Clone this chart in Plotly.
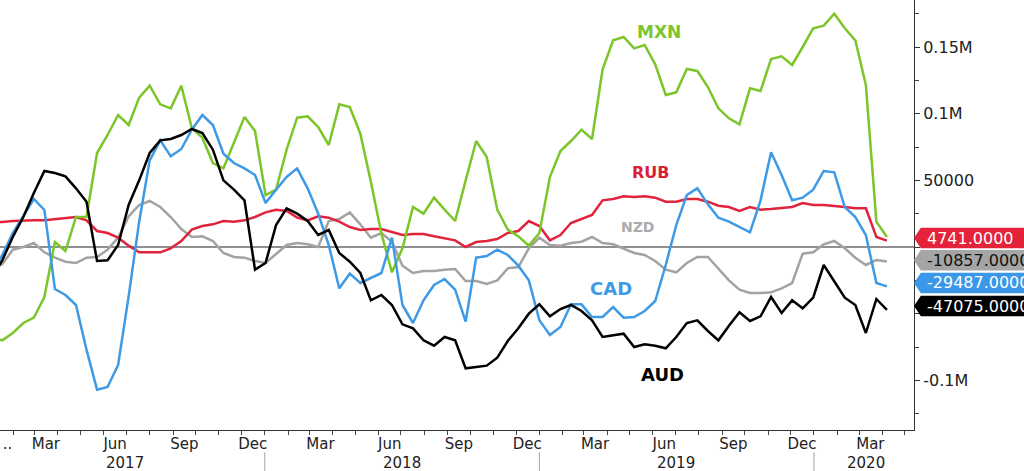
import pandas as pd
import plotly.graph_objects as go

# ---- data (thousands of contracts), bi-weekly observations ----
dates = pd.date_range("2017-01-03", periods=86, freq="14D")

mxn = [-68, -70, -64.5, -57, -53, -37.5, 3.75, -3, 22.5, 22.5, 70.5, 84, 99, 91.5, 112, 121,
       107, 104, 121, 89, 82, 63, 59, 78, 97.5, 87, 39, 43, 73, 97, 98, 90, 76.5, 107, 105, 85,
       49, 10, -19, -1, 30, 25, 37, 28, 19.5, 50, 79.5, 67.5, 28, 13, 8, 1, 10.5, 52.5, 72, 79.5,
       88, 81, 133, 155, 157.5, 149, 151.5, 137, 114, 116, 133.5, 132, 120, 104, 96.5, 92, 119,
       117, 141, 143, 136.5, 150, 164, 166, 175, 164, 155, 121.5, 19, 7.5]

rub = [18.75, 18.75, 19.5, 20, 20, 20, 21, 22, 22.5, 20, 12, 10.5, 7, 1, -4, -4, -4, -1, 4.5, 13,
       15.75, 17, 19.5, 19, 20, 22.5, 26, 28, 27, 22, 20, 23, 22, 19, 15, 12.75, 13.5, 13.5, 11, 9,
       9.75, 9.75, 8, 6.75, 5, 0, 3.75, 4.5, 6, 10.5, 12, 19.5, 15.75, 5, 9, 18, 21, 24, 35, 36,
       38, 37.5, 38, 37, 34, 34, 36, 36, 34, 31, 30, 27, 30, 28, 28.5, 29, 30, 33, 31.5, 31.5,
       31, 30, 29, 29, 7.5, 4.741]

nzd = [-16, -13, -2, 0, 3, -4, -8, -11, -12, -8, -7.5, -2, 7, 23, 31.5, 34.5, 30, 22.5, 13.5, 7.5,
       8, 4.5, -4.5, -7.5, -8, -10.5, -12, -5, 1.5, 3, 2, 0, 19.5, 21, 26, 17, 7, 10.5, 4, -14,
       -19.5, -18, -18, -17, -16.5, -25.5, -25.5, -27.75, -25, -16, -15, -1, 7, 1.5, 1, 3, 4, 7.5,
       3, 2, -1, -4.5, -6, -10.5, -17, -19, -12, -7.5, -7.5, -16, -25, -32, -34.5, -34.5, -34,
       -31, -27, -5, -4, 2, 4.5, -1, -8, -13.5, -9.75, -10.857]

cad = [-20, -6, 10.5, 23, 36, 27.75, -31.5, -36, -43.5, -77, -107, -105, -88.5, -37, 19, 65, 80,
       68, 73.5, 88, 99, 91.5, 70, 63, 59, 54, 33, 43, 52.5, 59, 44, 25, 1.5, -31, -20, -27, -23,
       -19.5, 7, -43.5, -57, -40, -28.5, -24, -32, -56, -8, -6.75, -2, -6, -14, -25, -55, -66, -60,
       -43, -43, -52.5, -52.5, -45, -53, -52.5, -48, -40.5, -13.5, 16.5, 39, 44, 32, 22, 19, 15,
       11, 35, 71, 54, 35, 37, 43, 57, 56, 30, 22.5, 9, -27, -29.487]

aud = [-23, -10, 7.5, 22.5, 40.5, 57, 55.5, 53, 44, 34, -10.5, -10, 1.5, 31.5, 50, 70.5, 80, 81,
       84, 88.5, 85.5, 73, 50, 43, 35, -17, -12, 16.5, 29, 25, 19.5, 9, 12.75, -4.5, -11, -19.5,
       -40, -36, -43.5, -58, -61, -70, -74, -67.5, -70, -91, -90, -89, -83, -70.5, -61, -50, -43,
       -52, -46.5, -43.5, -48, -55, -67.5, -66, -65, -75, -73, -74, -76, -67.5, -57, -55, -63,
       -70, -59, -49, -55.5, -52, -37.5, -49.5, -40, -46, -38, -13.5, -25.5, -38, -43.5, -64.5,
       -39, -47.075]

month_ticks = ["2017-01-24", "2017-03-16", "2017-06-16", "2017-09-16", "2017-12-16",
               "2018-03-16", "2018-06-16", "2018-09-16", "2018-12-16",
               "2019-03-16", "2019-06-16", "2019-09-16", "2019-12-16", "2020-03-16"]
month_text = ["..", "Mar", "Jun", "Sep", "Dec", "Mar", "Jun", "Sep", "Dec",
              "Mar", "Jun", "Sep", "Dec", "Mar"]
year_text = ["2017", "2018", "2019", "2020"]
year_pos = ["2017-06-29", "2018-07-02", "2019-07-02", "2020-03-10"]
year_breaks = ["2018-01-01", "2019-01-01", "2020-01-01"]

y_tickvals = [-100, -50, 0, 50, 100, 150]
y_ticktext = ["-0.1M", "", "", "50000", "0.1M", "0.15M"]

FONT = "DejaVu Sans"

series = [
    ("NZD", nzd, "#a3a3a3"),
    ("RUB", rub, "#e0243c"),
    ("MXN", mxn, "#7cc52a"),
    ("CAD", cad, "#3f9ae6"),
    ("AUD", aud, "#000000"),
]

fig = go.Figure()
for name, vals, col in series:
    fig.add_trace(go.Scatter(x=dates, y=vals, mode="lines", name=name,
                             line=dict(color=col, width=2.5), showlegend=False,
                             hoverinfo="skip"))

shapes = []
# zero line
shapes.append(dict(type="line", xref="paper", yref="y", x0=0, x1=1, y0=0, y1=0,
                   line=dict(color="#6a6a6a", width=1.3), layer="below"))
# year separators
for d in year_breaks:
    shapes.append(dict(type="line", xref="x", yref="paper", x0=d, x1=d, y0=-0.052, y1=-0.1,
                       line=dict(color="#a0a0a0", width=1)))

annotations = []
for t, d in zip(year_text, year_pos):
    annotations.append(dict(x=d, y=-0.077, xref="x", yref="paper", text=t, showarrow=False,
                            xanchor="center", yanchor="middle",
                            font=dict(family=FONT, size=15, color="#222")))

# series name labels
labels = [("MXN", 0.721, 0.926, "#7cc52a", 17),
          ("RUB", 0.712, 0.598, "#d71f36", 16),
          ("NZD", 0.698, 0.472, "#ababab", 14),
          ("CAD", 0.668, 0.330, "#3f9ae6", 18),
          ("AUD", 0.725, 0.128, "#000000", 18)]
for t, xp, yp, col, sz in labels:
    annotations.append(dict(x=xp, y=yp, xref="paper", yref="paper", text="<b>%s</b>" % t,
                            showarrow=False, xanchor="center", yanchor="middle",
                            font=dict(family=FONT, size=sz, color=col)))

# last-value tags on the right axis (stacked slightly to avoid overlap)
half = 7.75
tags = [(rub[-1], "#e4223a", "white"), (nzd[-1], "#a5a5a5", "#111111"),
        (cad[-1], "#3b98e8", "white"), (aud[-1], "#000000", "white")]
offsets = [2.0, 0.9, 2.5, 2.8]
for (v, bg, fg), off in zip(tags, offsets):
    c = v + off
    path = "M 1.0,{c} L 1.0075,{t} L 1.14,{t} L 1.14,{b} L 1.0075,{b} Z".format(
        c=c, t=c + half, b=c - half)
    shapes.append(dict(type="path", xref="paper", yref="y", path=path,
                       fillcolor=bg, line=dict(width=0), layer="above"))
    annotations.append(dict(x=1.012, y=c, xref="paper", yref="y",
                            text="%.4f" % (v * 1000), showarrow=False,
                            xanchor="left", yanchor="middle",
                            font=dict(family=FONT, size=16, color=fg)))

fig.update_layout(
    width=1024, height=471,
    margin=dict(l=0, r=110, t=0, b=41),
    paper_bgcolor="white", plot_bgcolor="white",
    font=dict(family=FONT, size=15, color="#222"),
    showlegend=False, shapes=shapes, annotations=annotations,
)
fig.update_xaxes(
    type="date", range=["2017-01-14", "2020-05-13"],
    tickmode="array", tickvals=month_ticks, ticktext=month_text,
    ticks="", showline=True, linecolor="#333", linewidth=1,
    showgrid=False, zeroline=False, tickfont=dict(family=FONT, size=15, color="#222"),
    minor=dict(tickmode="linear", tick0="2017-01-01", dtick="M1", ticks="outside",
               ticklen=4, tickcolor="#444", showgrid=False),
)
fig.update_yaxes(
    side="right", range=[-137.25, 185.25],
    tickmode="array", tickvals=y_tickvals, ticktext=y_ticktext,
    ticks="outside", ticklen=5, tickcolor="#333",
    showline=True, linecolor="#333", linewidth=1,
    showgrid=False, zeroline=False, tickfont=dict(family=FONT, size=16, color="#222"),
    minor=dict(tickmode="linear", tick0=0, dtick=25, ticks="outside", ticklen=4,
               tickcolor="#444", showgrid=False),
)

fig.write_html("out.html", config={"displayModeBar": False},
               post_script="document.body.style.margin='0';")
